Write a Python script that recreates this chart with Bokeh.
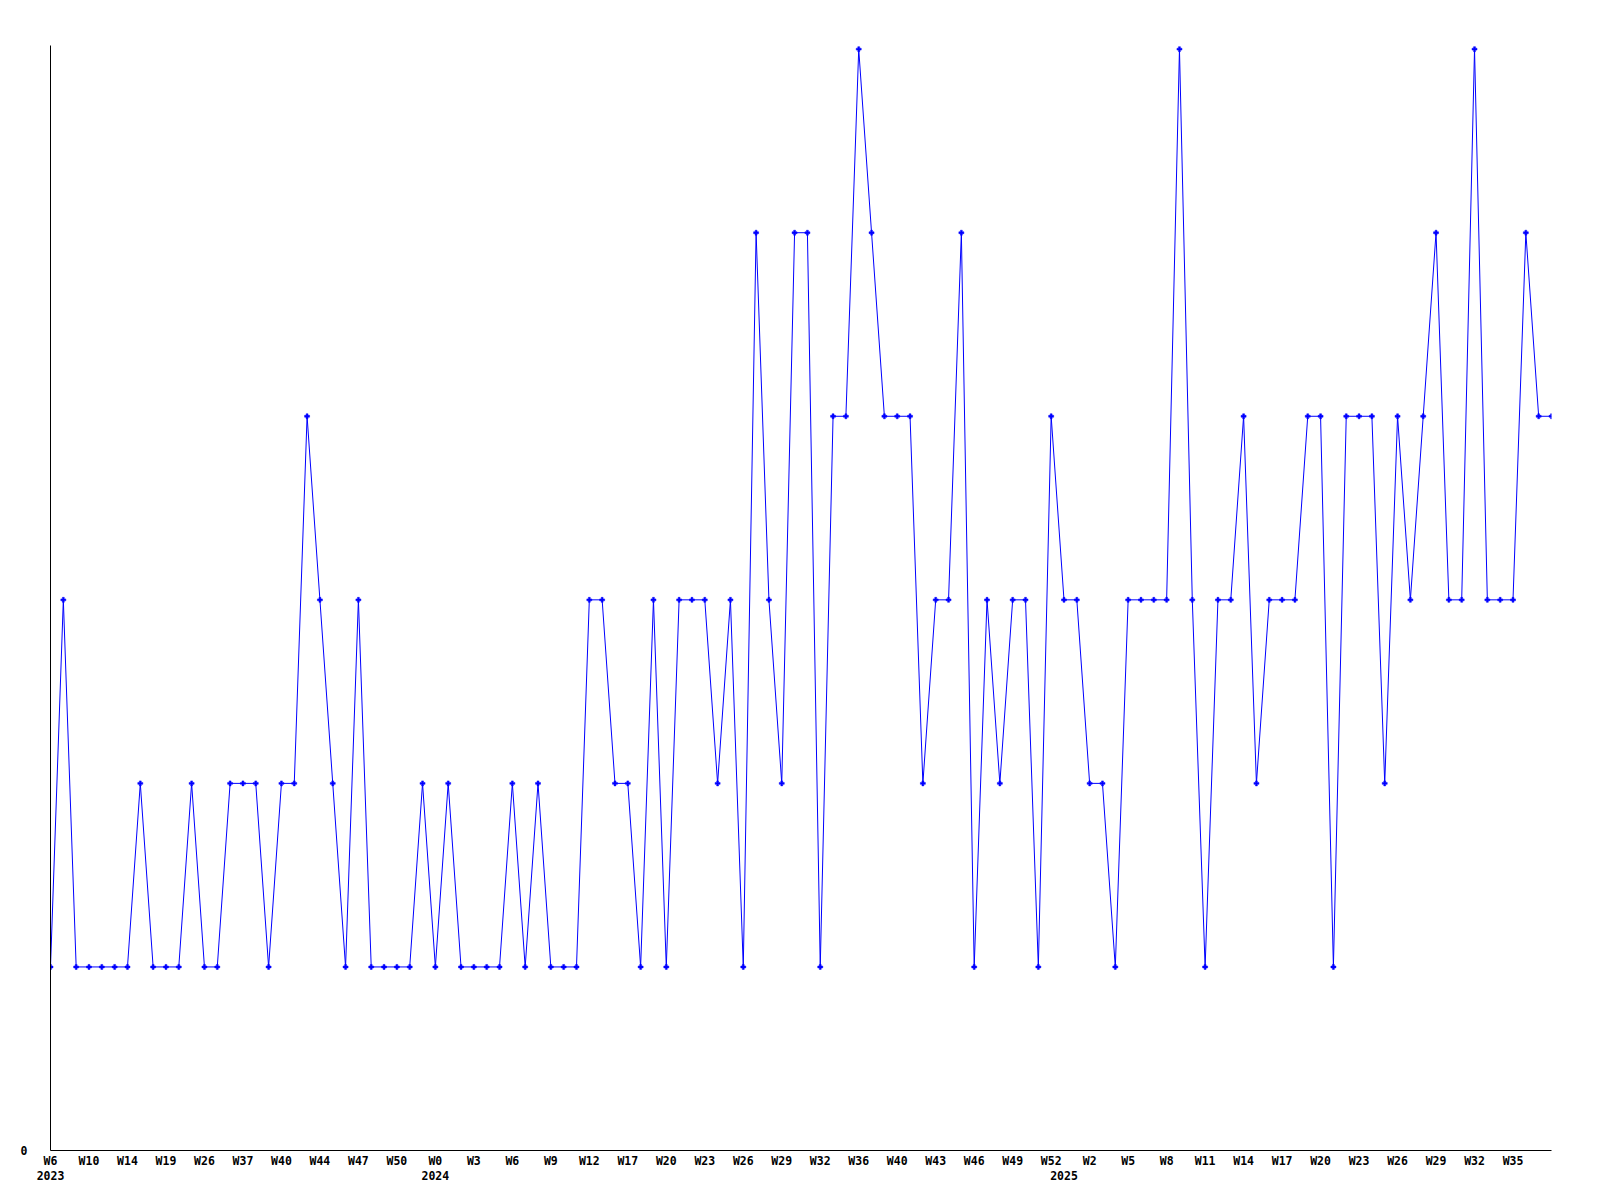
from bokeh.plotting import figure
from bokeh.models import Range1d, FixedTicker, LinearAxis
from bokeh.embed import file_html
from bokeh.resources import INLINE

# values per week (chronological, irregular weeks)
values = [1, 3, 1, 1, 1, 1, 1, 2, 1, 1, 1, 2, 1, 1, 2, 2, 2, 1, 2, 2,
          4, 3, 2, 1, 3, 1, 1, 1, 1, 2, 1, 2, 1, 1, 1, 1, 2, 1, 2, 1,
          1, 1, 3, 3, 2, 2, 1, 3, 1, 3, 3, 3, 2, 3, 1, 5, 3, 2, 5, 5,
          1, 4, 4, 6, 5, 4, 4, 4, 2, 3, 3, 5, 1, 3, 2, 3, 3, 1, 4, 3,
          3, 2, 2, 1, 3, 3, 3, 3, 6, 3, 1, 3, 3, 4, 2, 3, 3, 3, 4, 4,
          1, 4, 4, 4, 2, 4, 3, 4, 5, 3, 3, 6, 3, 3, 3, 5, 4, 4]

# week tick labels, shown on every third week
week_labels = ["W6", "W10", "W14", "W19", "W26", "W37", "W40", "W44", "W47", "W50",
               "W0", "W3", "W6", "W9", "W12", "W17", "W20", "W23", "W26", "W29",
               "W32", "W36", "W40", "W43", "W46", "W49", "W52", "W2", "W5", "W8",
               "W11", "W14", "W17", "W20", "W23", "W26", "W29", "W32", "W35"]
label_step = 3

# year labels and the week index where each year starts
year_labels = ["2023", "2024", "2025"]
year_index = [0, 30, 79]

xs = list(range(len(values)))
week_ticks = [i * label_step for i in range(len(week_labels))]

FONT = "DejaVu Sans Mono"
BLUE = "#0000ff"

p = figure(frame_width=1501, frame_height=1105,
           x_range=Range1d(0, len(values) - 1), y_range=Range1d(0, 6.02),
           output_backend="svg", toolbar_location=None,
           min_border_left=50, min_border_top=45, min_border_right=30,
           min_border_bottom=20)
p.outline_line_color = None
p.xgrid.visible = False
p.ygrid.visible = False
p.background_fill_color = "white"
p.border_fill_color = "white"

p.line(xs, values, line_color=BLUE, line_width=1)
p.scatter(xs, values, marker="plus", size=5, fill_color=BLUE, line_color=BLUE, line_width=0.5)

# x axis (weeks)
xa = p.xaxis[0]
xa.ticker = FixedTicker(ticks=week_ticks)
xa.major_label_overrides = {t: l for t, l in zip(week_ticks, week_labels)}
xa.major_tick_line_color = None
xa.minor_tick_line_color = None
xa.major_tick_out = 0
xa.major_tick_in = 0
xa.axis_line_color = "black"
xa.axis_line_width = 1
xa.major_label_standoff = 3
xa.major_label_text_font = FONT
xa.major_label_text_font_style = "bold"
xa.major_label_text_font_size = "11.5px"
xa.major_label_text_color = "black"

# year row
ya2 = LinearAxis(ticker=FixedTicker(ticks=year_index),
                 major_label_overrides={t: l for t, l in zip(year_index, year_labels)})
ya2.axis_line_color = None
ya2.major_tick_line_color = None
ya2.minor_tick_line_color = None
ya2.major_tick_out = 0
ya2.major_tick_in = 0
ya2.major_label_standoff = 0
ya2.major_label_text_font = FONT
ya2.major_label_text_font_style = "bold"
ya2.major_label_text_font_size = "11.5px"
ya2.major_label_text_color = "black"
p.add_layout(ya2, "below")

# y axis
yax = p.yaxis[0]
yax.ticker = FixedTicker(ticks=[0])
yax.major_tick_line_color = None
yax.minor_tick_line_color = None
yax.major_tick_out = 0
yax.major_tick_in = 0
yax.axis_line_color = "black"
yax.major_label_standoff = 23
yax.major_label_text_font = FONT
yax.major_label_text_font_style = "bold"
yax.major_label_text_font_size = "11.5px"
yax.major_label_text_color = "black"

open("out.html", "w").write(file_html(p, INLINE))
